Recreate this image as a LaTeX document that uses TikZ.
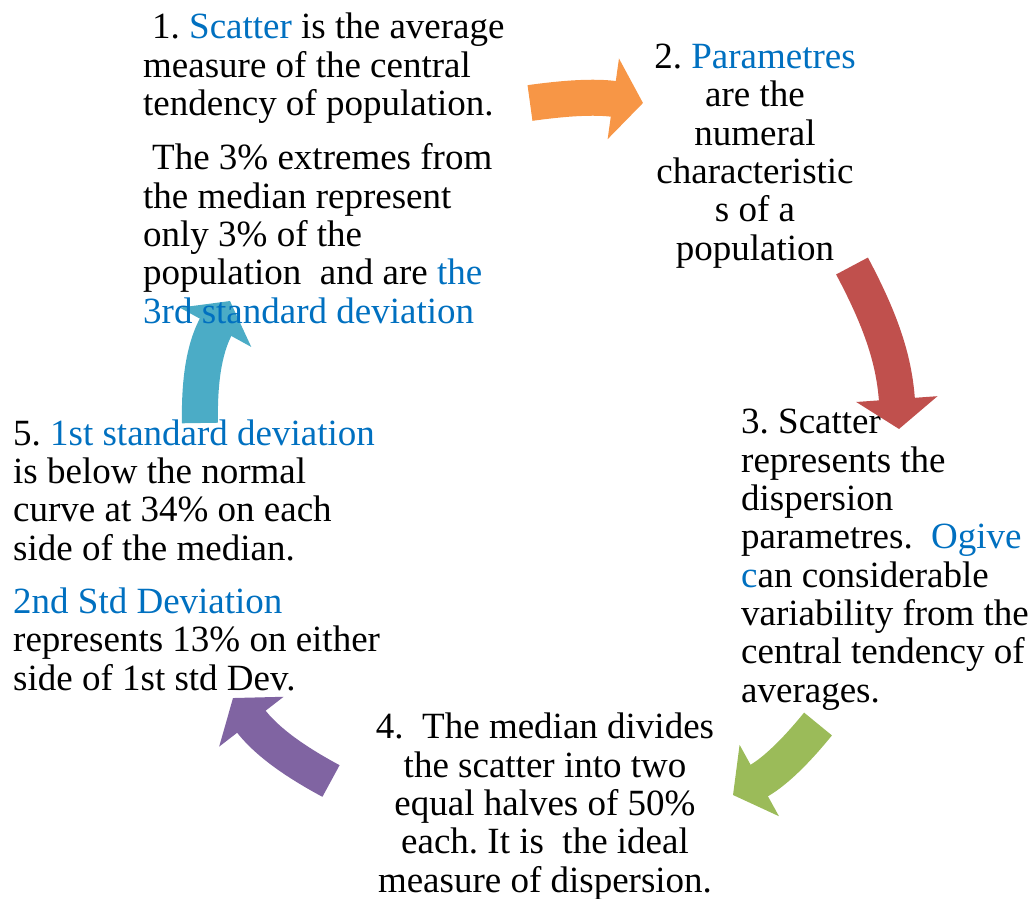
\documentclass[tikz,border=0pt]{standalone}
\usepackage{fontspec}
\setmainfont{Liberation Serif}
\usepackage{xcolor}
\usetikzlibrary{arrows.meta, positioning}

\definecolor{azul}{HTML}{0070C0}
\definecolor{naranja}{HTML}{F79646}
\definecolor{rojo}{HTML}{C0504D}
\definecolor{verde}{HTML}{9BBB59}
\definecolor{morado}{HTML}{8064A2}
\definecolor{turquesa}{HTML}{4BACC6}
\newcommand{\resalta}[1]{\textcolor{azul}{#1}}
\frenchspacing

\begin{document}
\begin{tikzpicture}[
    x=1pt, y=1pt,
    texto/.style={inner sep=0pt, font=\fontsize{37}{38.3}\selectfont},
    izq/.style={texto, align=left, anchor=base west},
    centro/.style={texto, align=center, anchor=base},
    flecha/.style={line width=36pt, -{Triangle[length=30pt, width=80pt]}}
  ]
  \useasboundingbox (0,0) rectangle (1034,-898);

  % --- Textos que quedan debajo de las flechas (anclados en la ultima linea) ---
  \node[izq] (tres) at (741,-702) {
    3. Scatter\\represents the\\dispersion\\
    parametres.\ \ \resalta{Ogive}\\\resalta{c}an considerable\\
    variability from the\\central tendency of\\averages.};
  \node[izq] (cinco) at (13,-690) {
    5. \resalta{1st standard deviation}\\is below the normal\\
    curve at 34\% on each\\side of the median.\\[15pt]
    \resalta{2nd Std Deviation}\\represents 13\% on either\\
    side of 1st std Dev.};

  % --- Flechas del ciclo ---
  \coordinate (n1) at (530,-103);  \coordinate (n2) at (643,-103);
  \coordinate (r1) at (852,-266);  \coordinate (r2) at (899,-429);
  \coordinate (v1) at (818,-724);  \coordinate (v2) at (733,-795);
  \coordinate (m1) at (331,-781);  \coordinate (m2) at (233,-698);
  \coordinate (t1) at (200,-423);  \coordinate (t2) at (230,-301);

  \draw[flecha, naranja] (n1) to[bend left=8] (n2);
  \draw[flecha, rojo] (r1) to[bend left=12] (r2);
  \draw[flecha, verde] (v1) to[bend left=11] (v2);
  \draw[flecha, morado] (m1) to[bend left=12] (m2);
  \draw[flecha, turquesa] (t1) to[bend left=15] (t2);

  % --- Textos por encima ---
  \node[izq] (uno) at (143,-323) {
    \hspace*{9pt}1. \resalta{Scatter} is the average\\measure of the central\\
    tendency of population.\\[16pt]
    \hspace*{9pt}The 3\% extremes from\\the median represent\\only 3\% of the\\
    population\ \ and are \resalta{the}\\\resalta{3rd standard deviation}};
  \node[centro] (dos) at (755,-260) {
    2. \resalta{Parametres}\\are the\\numeral\\characteristic\\s of a\\population};
  \node[centro] (cuatro) at (545,-892) {
    4.\ \ The median divides\\the scatter into two\\equal halves of 50\%\\
    each. It is\ \ the ideal\\measure of dispersion.};
\end{tikzpicture}
\end{document}
